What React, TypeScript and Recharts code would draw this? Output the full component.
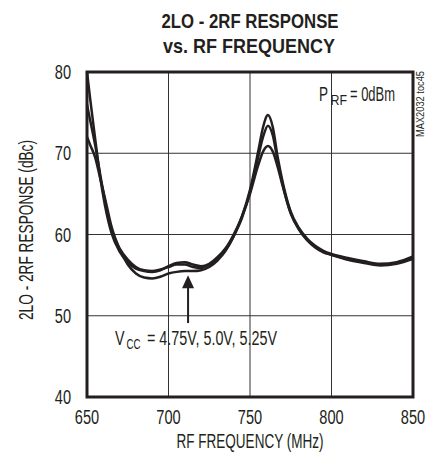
import React from "react";
import {
  LineChart,
  Line,
  XAxis,
  YAxis,
  CartesianGrid,
  ReferenceArea,
  ReferenceLine,
  ReferenceDot,
} from "recharts";

const FONT = "'Liberation Sans', Arial, sans-serif";
const INK = "#231f20";

const freq = [650, 652, 655, 658, 661, 665, 670, 675, 680, 685, 690, 695, 700, 705, 710, 715, 720, 725, 730, 735, 740, 745, 750, 755, 758, 761, 764, 767, 770, 775, 780, 785, 790, 795, 800, 810, 820, 830, 840, 850];
const vcc475 = [80, 76.6, 71.8, 67.2, 63.6, 60.2, 57.9, 56.6, 55.8, 55.5, 55.4, 55.6, 56.1, 56.5, 56.6, 56.3, 56.1, 56.4, 57.2, 58.3, 60.0, 62.2, 65.5, 70.2, 73.2, 74.7, 73.2, 69.5, 66.5, 62.8, 60.8, 59.5, 58.6, 58.0, 57.6, 57.1, 56.7, 56.4, 56.6, 57.3];
const vcc500 = [76, 74, 71, 67.5, 64.2, 60.6, 58.3, 56.9, 56.0, 55.6, 55.5, 55.7, 56.0, 56.3, 56.3, 56.0, 55.9, 56.3, 57.0, 58.1, 59.8, 62.0, 65.2, 69.5, 72.0, 73.4, 72.2, 69.0, 66.2, 62.6, 60.7, 59.4, 58.5, 57.9, 57.5, 57.0, 56.6, 56.3, 56.5, 57.1];
const vcc525 = [72, 71, 69.5, 67, 64.5, 61.0, 58.2, 56.3, 55.2, 54.7, 54.6, 54.8, 55.2, 55.4, 55.5, 55.5, 55.6, 56.0, 56.8, 58.0, 59.8, 62.2, 65.0, 68.5, 70.2, 70.9, 70.2, 68.3, 66.0, 62.6, 60.6, 59.3, 58.4, 57.8, 57.5, 56.9, 56.5, 56.2, 56.4, 57.0];

const xTicks = [650, 700, 750, 800, 850];
const yTicks = [40, 50, 60, 70, 80];

const arrowX = 712;
const arrowTip = 55.0;
const arrowShaft = [49.1, 53.6];

const data = freq.map((f, i) => ({ f, a: vcc475[i], b: vcc500[i], c: vcc525[i] }));

const ArrowHead = (props: any) => {
  const { cx, cy } = props;
  if (cx == null || cy == null) return null;
  return <path d={`M${cx},${cy} L${cx - 6},${cy + 13} L${cx + 6},${cy + 13} Z`} fill={INK} />;
};

const XTick = (props: any) => {
  const { x, y, payload } = props;
  const s = String(payload.value);
  return (
    <text x={x} y={y} dy="0.71em" textAnchor="middle" fontSize={20} fontFamily={FONT} fill={INK}
      textLength={s.length * 8.1} lengthAdjust="spacingAndGlyphs">{s}</text>
  );
};

const YTick = (props: any) => {
  const { x, y, payload } = props;
  const s = String(payload.value);
  return (
    <text x={x} y={y} dy="0.355em" textAnchor="end" fontSize={20} fontFamily={FONT} fill={INK}
      textLength={s.length * 8.1} lengthAdjust="spacingAndGlyphs">{s}</text>
  );
};

export default function App() {
  return (
    <div style={{ position: "absolute", left: 0, top: 0, width: 438, height: 455, background: "#fff" }}>
      <LineChart width={438} height={455} data={data} margin={{ top: 72, right: 25, bottom: 28, left: 0 }}>
        <CartesianGrid stroke="#333" strokeWidth={1} />
        <XAxis
          dataKey="f"
          type="number"
          domain={[650, 850]}
          ticks={xTicks}
          interval={0}
          tickSize={0}
          tickMargin={13}
          axisLine={false}
          height={30}
          tick={<XTick />}
        />
        <YAxis
          type="number"
          domain={[40, 80]}
          ticks={yTicks}
          interval={0}
          width={87}
          tickSize={0}
          tickMargin={16}
          axisLine={false}
          tick={<YTick />}
        />
        <Line type="monotone" dataKey="a" stroke={INK} strokeWidth={2.5} dot={false} isAnimationActive={false} />
        <Line type="monotone" dataKey="b" stroke={INK} strokeWidth={2.5} dot={false} isAnimationActive={false} />
        <Line type="monotone" dataKey="c" stroke={INK} strokeWidth={2.5} dot={false} isAnimationActive={false} />
        <ReferenceLine
          segment={[{ x: arrowX, y: arrowShaft[0] }, { x: arrowX, y: arrowShaft[1] }]}
          stroke={INK}
          strokeWidth={2}
        />
        <ReferenceDot x={arrowX} y={arrowTip} shape={ArrowHead} />
        <ReferenceArea x1={650} x2={850} y1={40} y2={80} fill="none" stroke={INK} strokeWidth={3} />
      </LineChart>
      <svg
        width={438}
        height={455}
        style={{ position: "absolute", left: 0, top: 0, pointerEvents: "none" }}
        fontFamily={FONT}
        fill={INK}
      >
        <text x={250} y={28} textAnchor="middle" fontSize={21} fontWeight="bold" textLength={177} lengthAdjust="spacingAndGlyphs">2LO - 2RF RESPONSE</text>
        <text x={249} y={53} textAnchor="middle" fontSize={21} fontWeight="bold" textLength={172} lengthAdjust="spacingAndGlyphs">vs. RF FREQUENCY</text>
        <text x={250} y={448} textAnchor="middle" fontSize={20} textLength={147} lengthAdjust="spacingAndGlyphs">RF FREQUENCY (MHz)</text>
        <text transform="translate(33,230) rotate(-90)" textAnchor="middle" fontSize={20} textLength={180} lengthAdjust="spacingAndGlyphs">2LO - 2RF RESPONSE (dBc)</text>
        <text x={319} y={101} fontSize={20}>
          <tspan textLength={9} lengthAdjust="spacingAndGlyphs">P</tspan>
          <tspan x={330.5} y={105} fontSize={15} textLength={16.5} lengthAdjust="spacingAndGlyphs">RF</tspan>
          <tspan x={350} y={101} textLength={45} lengthAdjust="spacingAndGlyphs">= 0dBm</tspan>
        </text>
        <text x={115} y={345} fontSize={20}>
          <tspan textLength={9.5} lengthAdjust="spacingAndGlyphs">V</tspan>
          <tspan x={126.5} y={349} fontSize={14} textLength={14} lengthAdjust="spacingAndGlyphs">CC</tspan>
          <tspan x={147} y={345} textLength={130} lengthAdjust="spacingAndGlyphs">= 4.75V, 5.0V, 5.25V</tspan>
        </text>
        <text transform="translate(424,104) rotate(-90)" textAnchor="middle" fontSize={10} textLength={66} lengthAdjust="spacingAndGlyphs">MAX2032 toc45</text>
      </svg>
    </div>
  );
}
